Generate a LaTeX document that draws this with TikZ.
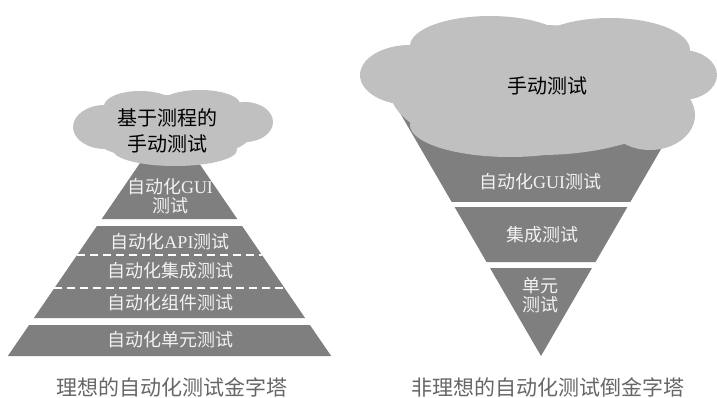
\documentclass[tikz,border=0pt]{standalone}
\usepackage{fontspec}
\setmainfont{Liberation Serif}
\newfontfamily\cjk{Noto Sans CJK SC}
\newcommand{\zh}[1]{{\cjk #1}}
\definecolor{bandgray}{HTML}{7F7F7F}
\definecolor{cloudgray}{HTML}{C0C0C0}
\definecolor{capgray}{HTML}{666666}
\definecolor{labwhite}{HTML}{F2F2F2}
\tikzset{
  band/.style={fill=bandgray, draw=none},
  puff/.style={fill=cloudgray, draw=none},
  sep/.style={draw=white, line width=1.1pt, dash pattern=on 8pt off 5pt},
  bandlabel/.style={text=labwhite, font=\fontsize{18}{20}\selectfont\rmfamily, align=center, inner sep=0pt},
  cloudlabel/.style={text=black, font=\fontsize{20}{26}\selectfont\cjk, align=center, inner sep=0pt},
  caption/.style={text=capgray, font=\fontsize{21}{24}\selectfont\cjk, inner sep=0pt}
}
\begin{document}
\begin{tikzpicture}[x=1pt, y=-1pt]
\useasboundingbox (0,0) rectangle (717,398);
% ---------- left pyramid ----------
\fill[band] (169.5,120) -- (237.3,219) -- (101.7,219) -- cycle;
\fill[band] (96.9,226) -- (242.1,226) -- (305.1,318) -- (33.9,318) -- cycle;
\fill[band] (29.1,325) -- (309.9,325) -- (331.2,356) -- (7.8,356) -- cycle;
\coordinate (d1l) at (77,255);   \coordinate (d1r) at (262,255);
\coordinate (d2l) at (54.4,288); \coordinate (d2r) at (284.6,288);
\draw[sep] (d1l) -- (d1r);
\draw[sep] (d2l) -- (d2r);
% left cloud
\fill[puff] (170,128) ellipse [x radius=85, y radius=33];
\fill[puff] (105,127) ellipse [x radius=32, y radius=22];
\fill[puff] (140,106) ellipse [x radius=36, y radius=15];
\fill[puff] (200,104) ellipse [x radius=40, y radius=14];
\fill[puff] (245,122) ellipse [x radius=28, y radius=20];
\fill[puff] (175,150) ellipse [x radius=62, y radius=16];
\node[cloudlabel] (lc) at (167,131) {基于测程的\\手动测试};
% left labels
\node[bandlabel] (lgui) at (170,196) {\zh{自动化}GUI\\[-1pt]\zh{测试}};
\node[bandlabel] (lapi) at (170,242) {\zh{自动化}API\zh{测试}};
\node[bandlabel] (ljc) at (170,271) {\zh{自动化集成测试}};
\node[bandlabel] (lzj) at (170,303) {\zh{自动化组件测试}};
\node[bandlabel] (ldy) at (170,340) {\zh{自动化单元测试}};
\node[caption] (lcap) at (172,387) {理想的自动化测试金字塔};
% ---------- right inverted pyramid ----------
\fill[band] (398.3,110) -- (683.7,110) -- (630.3,202) -- (451.7,202) -- cycle;
\fill[band] (454.6,207) -- (627.4,207) -- (595.5,262) -- (486.5,262) -- cycle;
\fill[band] (490,268) -- (592,268) -- (541,356) -- cycle;
% right cloud
\fill[puff] (540,90) ellipse [x radius=150, y radius=65];
\fill[puff] (410,75) ellipse [x radius=50, y radius=30];
\fill[puff] (490,46) ellipse [x radius=80, y radius=30];
\fill[puff] (610,50) ellipse [x radius=80, y radius=32];
\fill[puff] (682,75) ellipse [x radius=35, y radius=25];
\fill[puff] (650,115) ellipse [x radius=45, y radius=35];
\fill[puff] (510,125) ellipse [x radius=100, y radius=32];
\node[cloudlabel] (rc) at (547,86) {手动测试};
% right labels
\node[bandlabel] (rgui) at (540,182) {\zh{自动化}GUI\zh{测试}};
\node[bandlabel] (rjc) at (542,235) {\zh{集成测试}};
\node[bandlabel] (rdy) at (540,295) {\zh{单元}\\[-1pt]\zh{测试}};
\node[caption] (rcap) at (548,387) {非理想的自动化测试倒金字塔};
\end{tikzpicture}
\end{document}
